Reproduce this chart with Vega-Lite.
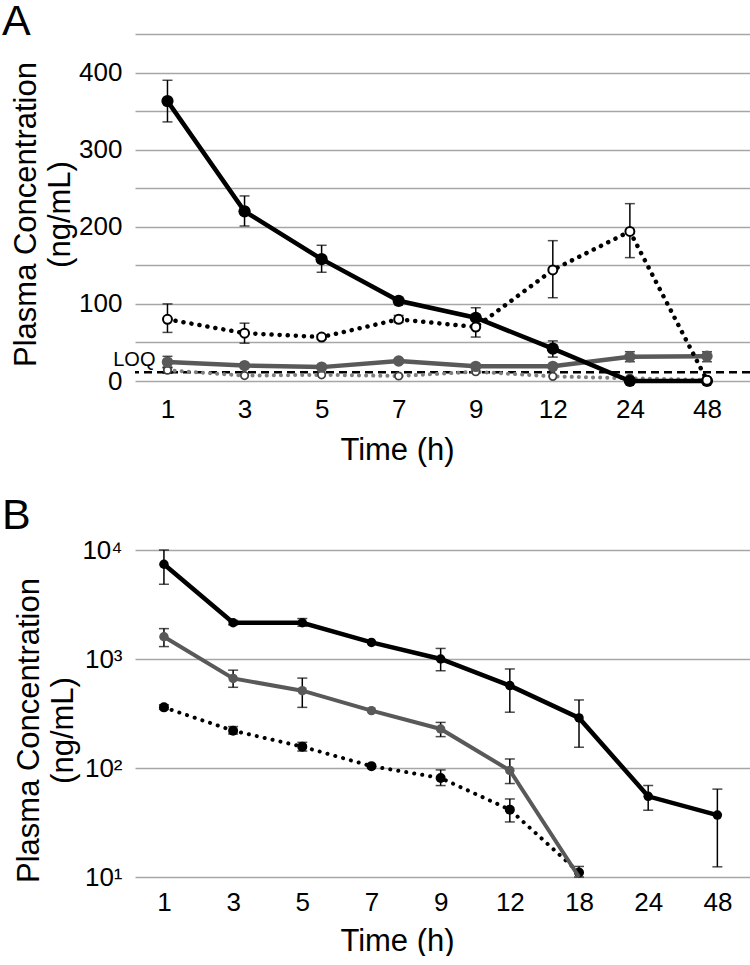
{
  "$schema": "https://vega.github.io/schema/vega-lite/v6.json",
  "padding": {"left": 2, "top": 1, "right": 0, "bottom": 0},
  "spacing": 29,
  "datasets": {
    "A": [
      {"s": "S1", "t": "1", "v": 363, "lo": 336, "hi": 390},
      {"s": "S1", "t": "3", "v": 220, "lo": 201, "hi": 240},
      {"s": "S1", "t": "5", "v": 158, "lo": 141, "hi": 176},
      {"s": "S1", "t": "7", "v": 104, "lo": null, "hi": null},
      {"s": "S1", "t": "9", "v": 82, "lo": 70, "hi": 95},
      {"s": "S1", "t": "12", "v": 42, "lo": 31, "hi": 52},
      {"s": "S1", "t": "24", "v": 0, "lo": null, "hi": null},
      {"s": "S1", "t": "48", "v": 0, "lo": null, "hi": null},
      {"s": "S2", "t": "1", "v": 80, "lo": 63, "hi": 100},
      {"s": "S2", "t": "3", "v": 62, "lo": 49, "hi": 75},
      {"s": "S2", "t": "5", "v": 57, "lo": 54, "hi": 60},
      {"s": "S2", "t": "7", "v": 80, "lo": 76, "hi": 85},
      {"s": "S2", "t": "9", "v": 70, "lo": 57, "hi": 83},
      {"s": "S2", "t": "12", "v": 144, "lo": 108, "hi": 182},
      {"s": "S2", "t": "24", "v": 194, "lo": 160, "hi": 230},
      {"s": "S2", "t": "48", "v": 1, "lo": null, "hi": null},
      {"s": "S3", "t": "1", "v": 24.5, "lo": 17, "hi": 32},
      {"s": "S3", "t": "3", "v": 20, "lo": null, "hi": null},
      {"s": "S3", "t": "5", "v": 18, "lo": null, "hi": null},
      {"s": "S3", "t": "7", "v": 26, "lo": null, "hi": null},
      {"s": "S3", "t": "9", "v": 19, "lo": null, "hi": null},
      {"s": "S3", "t": "12", "v": 19, "lo": null, "hi": null},
      {"s": "S3", "t": "24", "v": 31.5, "lo": 25, "hi": 38},
      {"s": "S3", "t": "48", "v": 32, "lo": 25, "hi": 38},
      {"s": "S4", "t": "1", "v": 14, "lo": 10, "hi": 18},
      {"s": "S4", "t": "3", "v": 7, "lo": null, "hi": null},
      {"s": "S4", "t": "5", "v": 8, "lo": null, "hi": null},
      {"s": "S4", "t": "7", "v": 6.5, "lo": null, "hi": null},
      {"s": "S4", "t": "9", "v": 12, "lo": null, "hi": null},
      {"s": "S4", "t": "12", "v": 6, "lo": null, "hi": null},
      {"s": "S4", "t": "24", "v": 3.5, "lo": null, "hi": null},
      {"s": "S4", "t": "48", "v": 1.5, "lo": null, "hi": null}
    ],
    "loq": [{"label": "LOQ", "v": 11.5}],
    "B": [
      {"s": "B1", "t": "1", "v": 7400, "lo": 4850, "hi": 10000},
      {"s": "B1", "t": "3", "v": 2150, "lo": 2060, "hi": 2260},
      {"s": "B1", "t": "5", "v": 2150, "lo": 2000, "hi": 2350},
      {"s": "B1", "t": "7", "v": 1420, "lo": null, "hi": null},
      {"s": "B1", "t": "9", "v": 1000, "lo": 780, "hi": 1250},
      {"s": "B1", "t": "12", "v": 570, "lo": 325, "hi": 810},
      {"s": "B1", "t": "18", "v": 288, "lo": 155, "hi": 421},
      {"s": "B1", "t": "24", "v": 55, "lo": 41, "hi": 69},
      {"s": "B1", "t": "48", "v": 37, "lo": 12.4, "hi": 64},
      {"s": "B2", "t": "1", "v": 1600, "lo": 1300, "hi": 1900},
      {"s": "B2", "t": "3", "v": 664, "lo": 550, "hi": 790},
      {"s": "B2", "t": "5", "v": 512, "lo": 360, "hi": 668},
      {"s": "B2", "t": "7", "v": 336, "lo": null, "hi": null},
      {"s": "B2", "t": "9", "v": 228, "lo": 194, "hi": 262},
      {"s": "B2", "t": "12", "v": 95, "lo": 72, "hi": 121},
      {"s": "B2", "t": "18", "v": 10, "lo": null, "hi": null},
      {"s": "B3", "t": "1", "v": 360, "lo": 345, "hi": 380},
      {"s": "B3", "t": "3", "v": 220, "lo": 205, "hi": 240},
      {"s": "B3", "t": "5", "v": 157, "lo": 143, "hi": 172},
      {"s": "B3", "t": "7", "v": 104, "lo": null, "hi": null},
      {"s": "B3", "t": "9", "v": 81, "lo": 69, "hi": 96},
      {"s": "B3", "t": "12", "v": 41.5, "lo": 32, "hi": 52},
      {"s": "B3", "t": "18", "v": 11, "lo": 10, "hi": 12.5}
    ]
  },
  "vconcat": [
    {
      "title": {"text": "A", "offset": -10},
      "width": 615,
      "height": 347,
      "data": {"name": "A"},
      "encoding": {
        "x": {"field": "t", "type": "ordinal", "sort": ["1","3","5","7","9","12","24","48"], "scale": {"type": "point", "padding": 0.49, "align": 0.43}, "axis": {"title": "Time (h)", "labelPadding": 15, "titlePadding": 13}}
      },
      "layer": [
        {
          "mark": {"type": "errorbar", "ticks": {"size": 10, "thickness": 1.5, "color": "black"}, "rule": {"strokeWidth": 1.5, "color": "black"}},
          "transform": [{"filter": "datum.lo != null"}],
          "encoding": {
            "y": {"field": "lo", "type": "quantitative", "title": ["Plasma Concentration", "(ng/mL)"], "scale": {"domain": [0, 450], "nice": false}, "axis": {"values": [0,50,100,150,200,250,300,350,400,450], "labelExpr": "datum.value % 100 == 0 && datum.value < 450 ? datum.label : ''"}},
            "y2": {"field": "hi"}
          }
        },
        {
          "mark": {"type": "rule", "strokeDash": [8, 5], "strokeWidth": 2.5, "color": "black"},
          "data": {"name": "loq"},
          "encoding": {"x": null, "y": {"field": "v", "type": "quantitative", "title": ["Plasma Concentration", "(ng/mL)"], "axis": {"values": [0,50,100,150,200,250,300,350,400,450], "labelExpr": "datum.value % 100 == 0 && datum.value < 450 ? datum.label : ''"}}}
        },
        {
          "mark": {"type": "text", "align": "right", "baseline": "middle", "dx": -12, "dy": -12, "fontSize": 20, "font": "Liberation Sans", "color": "black"},
          "data": {"name": "loq"},
          "encoding": {"x": {"datum": "1", "type": "ordinal"}, "y": {"field": "v", "type": "quantitative", "title": ["Plasma Concentration", "(ng/mL)"], "axis": {"values": [0,50,100,150,200,250,300,350,400,450], "labelExpr": "datum.value % 100 == 0 && datum.value < 450 ? datum.label : ''"}}, "text": {"field": "label"}}
        },
        {
          "mark": {"type": "line", "color": "#7f7f7f", "strokeWidth": 4, "strokeDash": [0.1, 7], "strokeCap": "round"},
          "transform": [{"filter": "datum.s == 'S4'"}],
          "encoding": {"y": {"field": "v", "type": "quantitative", "title": ["Plasma Concentration", "(ng/mL)"], "axis": {"values": [0,50,100,150,200,250,300,350,400,450], "labelExpr": "datum.value % 100 == 0 && datum.value < 450 ? datum.label : ''"}}}
        },
        {
          "mark": {"type": "point", "filled": true, "fill": "white", "stroke": "#404040", "strokeWidth": 1.8, "size": 55, "opacity": 1},
          "transform": [{"filter": "datum.s == 'S4'"}],
          "encoding": {"y": {"field": "v", "type": "quantitative", "title": ["Plasma Concentration", "(ng/mL)"], "axis": {"values": [0,50,100,150,200,250,300,350,400,450], "labelExpr": "datum.value % 100 == 0 && datum.value < 450 ? datum.label : ''"}}}
        },
        {
          "mark": {"type": "line", "color": "#595959", "strokeWidth": 4.5},
          "transform": [{"filter": "datum.s == 'S3'"}],
          "encoding": {"y": {"field": "v", "type": "quantitative", "title": ["Plasma Concentration", "(ng/mL)"], "axis": {"values": [0,50,100,150,200,250,300,350,400,450], "labelExpr": "datum.value % 100 == 0 && datum.value < 450 ? datum.label : ''"}}}
        },
        {
          "mark": {"type": "circle", "color": "#595959", "size": 130, "opacity": 1},
          "transform": [{"filter": "datum.s == 'S3'"}],
          "encoding": {"y": {"field": "v", "type": "quantitative", "title": ["Plasma Concentration", "(ng/mL)"], "axis": {"values": [0,50,100,150,200,250,300,350,400,450], "labelExpr": "datum.value % 100 == 0 && datum.value < 450 ? datum.label : ''"}}}
        },
        {
          "mark": {"type": "line", "color": "black", "strokeWidth": 4.5, "strokeDash": [0.1, 8], "strokeCap": "round"},
          "transform": [{"filter": "datum.s == 'S2'"}],
          "encoding": {"y": {"field": "v", "type": "quantitative", "title": ["Plasma Concentration", "(ng/mL)"], "axis": {"values": [0,50,100,150,200,250,300,350,400,450], "labelExpr": "datum.value % 100 == 0 && datum.value < 450 ? datum.label : ''"}}}
        },
        {
          "mark": {"type": "line", "color": "black", "strokeWidth": 4.5},
          "transform": [{"filter": "datum.s == 'S1'"}],
          "encoding": {"y": {"field": "v", "type": "quantitative", "title": ["Plasma Concentration", "(ng/mL)"], "axis": {"values": [0,50,100,150,200,250,300,350,400,450], "labelExpr": "datum.value % 100 == 0 && datum.value < 450 ? datum.label : ''"}}}
        },
        {
          "mark": {"type": "circle", "color": "black", "size": 150, "opacity": 1},
          "transform": [{"filter": "datum.s == 'S1'"}],
          "encoding": {"y": {"field": "v", "type": "quantitative", "title": ["Plasma Concentration", "(ng/mL)"], "axis": {"values": [0,50,100,150,200,250,300,350,400,450], "labelExpr": "datum.value % 100 == 0 && datum.value < 450 ? datum.label : ''"}}}
        },
        {
          "mark": {"type": "point", "filled": true, "fill": "white", "stroke": "black", "strokeWidth": 2, "size": 80, "opacity": 1},
          "transform": [{"filter": "datum.s == 'S2'"}],
          "encoding": {"y": {"field": "v", "type": "quantitative", "title": ["Plasma Concentration", "(ng/mL)"], "axis": {"values": [0,50,100,150,200,250,300,350,400,450], "labelExpr": "datum.value % 100 == 0 && datum.value < 450 ? datum.label : ''"}}}
        }
      ]
    },
    {
      "title": {"text": "B", "offset": -0.5},
      "width": 615,
      "height": 327,
      "data": {"name": "B"},
      "encoding": {
        "x": {"field": "t", "type": "ordinal", "sort": ["1","3","5","7","9","12","18","24","48"], "scale": {"type": "point", "padding": 0.445, "align": 0.47}, "axis": {"title": "Time (h)", "labelPadding": 12, "titlePadding": 11}}
      },
      "layer": [
        {
          "mark": {"type": "errorbar", "ticks": {"size": 10, "thickness": 1.5, "color": "black"}, "rule": {"strokeWidth": 1.5, "color": "black"}},
          "transform": [{"filter": "datum.lo != null"}],
          "encoding": {
            "y": {"field": "lo", "type": "quantitative", "title": ["Plasma Concentration", "(ng/mL)"], "scale": {"type": "log", "domain": [10, 10000], "nice": false}, "axis": {"values": [10, 100, 1000, 10000], "labelExpr": "'10' + (datum.value >= 9999 ? '⁴' : datum.value >= 999 ? '³' : datum.value >= 99 ? '²' : '¹')"}},
            "y2": {"field": "hi"}
          }
        },
        {
          "mark": {"type": "line", "color": "black", "strokeWidth": 4, "strokeDash": [0.1, 8], "strokeCap": "round"},
          "transform": [{"filter": "datum.s == 'B3'"}],
          "encoding": {"y": {"field": "v", "type": "quantitative", "title": ["Plasma Concentration", "(ng/mL)"], "axis": {"values": [10, 100, 1000, 10000], "labelExpr": "'10' + (datum.value >= 9999 ? '⁴' : datum.value >= 999 ? '³' : datum.value >= 99 ? '²' : '¹')"}}}
        },
        {
          "mark": {"type": "circle", "color": "black", "size": 100, "opacity": 1},
          "transform": [{"filter": "datum.s == 'B3'"}],
          "encoding": {"y": {"field": "v", "type": "quantitative", "title": ["Plasma Concentration", "(ng/mL)"], "axis": {"values": [10, 100, 1000, 10000], "labelExpr": "'10' + (datum.value >= 9999 ? '⁴' : datum.value >= 999 ? '³' : datum.value >= 99 ? '²' : '¹')"}}}
        },
        {
          "mark": {"type": "line", "color": "#595959", "strokeWidth": 4},
          "transform": [{"filter": "datum.s == 'B2'"}],
          "encoding": {"y": {"field": "v", "type": "quantitative", "title": ["Plasma Concentration", "(ng/mL)"], "axis": {"values": [10, 100, 1000, 10000], "labelExpr": "'10' + (datum.value >= 9999 ? '⁴' : datum.value >= 999 ? '³' : datum.value >= 99 ? '²' : '¹')"}}}
        },
        {
          "mark": {"type": "circle", "color": "#595959", "size": 90, "opacity": 1},
          "transform": [{"filter": "datum.s == 'B2' && datum.v > 10"}],
          "encoding": {"y": {"field": "v", "type": "quantitative", "title": ["Plasma Concentration", "(ng/mL)"], "axis": {"values": [10, 100, 1000, 10000], "labelExpr": "'10' + (datum.value >= 9999 ? '⁴' : datum.value >= 999 ? '³' : datum.value >= 99 ? '²' : '¹')"}}}
        },
        {
          "mark": {"type": "line", "color": "black", "strokeWidth": 4.5},
          "transform": [{"filter": "datum.s == 'B1'"}],
          "encoding": {"y": {"field": "v", "type": "quantitative", "title": ["Plasma Concentration", "(ng/mL)"], "axis": {"values": [10, 100, 1000, 10000], "labelExpr": "'10' + (datum.value >= 9999 ? '⁴' : datum.value >= 999 ? '³' : datum.value >= 99 ? '²' : '¹')"}}}
        },
        {
          "mark": {"type": "circle", "color": "black", "size": 90, "opacity": 1},
          "transform": [{"filter": "datum.s == 'B1'"}],
          "encoding": {"y": {"field": "v", "type": "quantitative", "title": ["Plasma Concentration", "(ng/mL)"], "axis": {"values": [10, 100, 1000, 10000], "labelExpr": "'10' + (datum.value >= 9999 ? '⁴' : datum.value >= 999 ? '³' : datum.value >= 99 ? '²' : '¹')"}}}
        }
      ]
    }
  ],
  "config": {
    "view": {"stroke": null},
    "font": "Liberation Sans",
    "title": {"fontSize": 43, "fontWeight": "normal", "font": "Liberation Sans", "anchor": "start", "frame": "group", "dx": -133, "color": "black", "baseline": "alphabetic"},
    "axis": {"domain": false, "ticks": false, "tickSize": 0, "labelFont": "Liberation Sans", "labelFontSize": 26, "labelColor": "black", "titleFont": "Liberation Sans", "titleFontSize": 31, "titleFontWeight": "normal", "titleColor": "black", "gridColor": "#a6a6a6", "gridWidth": 1.5},
    "axisX": {"grid": false, "labelAngle": 0, "titleX": 262},
    "axisY": {"titleLineHeight": 34, "titlePadding": 2, "labelPadding": 13, "titleY": 180}
  }
}
